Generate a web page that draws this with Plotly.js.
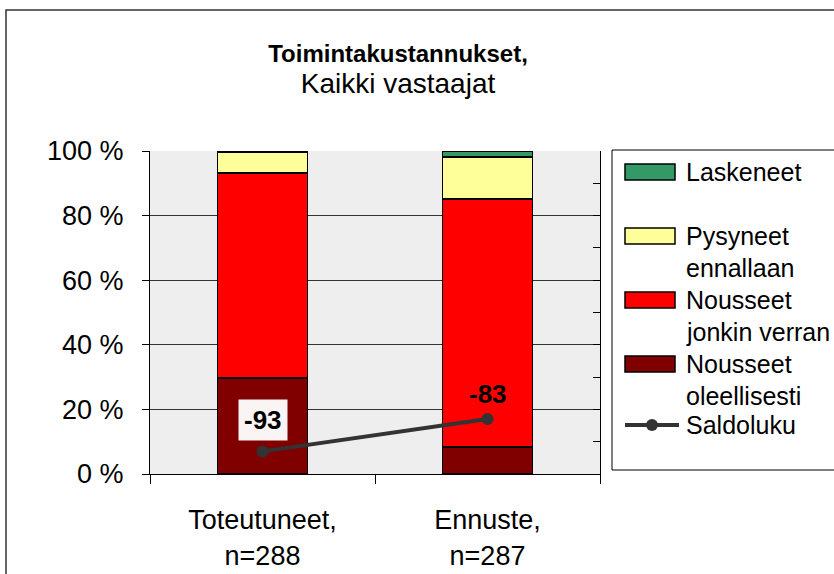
<!DOCTYPE html>
<html>
<head>
<meta charset="utf-8">
<script src="https://cdn.plot.ly/plotly-3.0.1.min.js"></script>
<style>
  html, body { margin: 0; padding: 0; background: #ffffff; }
  #chart { width: 834px; height: 574px; }
</style>
</head>
<body>
<div id="chart"></div>
<script>
// ---- data ----
const categories = ["Toteutuneet,<br>n=288", "Ennuste,<br>n=287"];
const nousseetOleellisesti = [29.7, 8.4];
const nousseetJonkinVerran = [63.5, 76.7];
const pysyneetEnnallaan = [6.3, 13.0];
const laskeneet = [0.5, 1.9];
const saldoluku = [-93, -83];
const seriesNames = ["Nousseet oleellisesti", "Nousseet jonkin verran", "Pysyneet ennallaan", "Laskeneet"];
const legendLines = [["Nousseet", "oleellisesti"], ["Nousseet", "jonkin verran"], ["Pysyneet", "ennallaan"], ["Laskeneet"]];
const saldoName = "Saldoluku";
const yTickVals = [0, 20, 40, 60, 80, 100];
const yTickText = ["0 %", "20 %", "40 %", "60 %", "80 %", "100 %"];

// ---- styles ----
const colors = ["#800000", "#FF0000", "#FFFF99", "#339966"];
const seriesValues = [nousseetOleellisesti, nousseetJonkinVerran, pysyneetEnnallaan, laskeneet];
const FONT = "Liberation Sans, Arial, sans-serif";
const LINE_COLOR = "#333333";

// plot area in pixels (for placing the hand-drawn legend box)
const PL = 150, PR = 600, PT = 151, PB = 474;
const PX = x => (x - PL) / (PR - PL);
const PY = y => (PB - y) / (PB - PT);

const traces = [];
seriesValues.forEach((vals, i) => {
  traces.push({
    type: "bar",
    name: seriesNames[i],
    x: categories,
    y: vals,
    marker: { color: colors[i], line: { color: "#000000", width: 1.5 } },
    hoverinfo: "skip",
    showlegend: false
  });
});
traces.push({
  type: "scatter",
  mode: "lines+markers",
  name: saldoName,
  x: categories,
  y: saldoluku,
  yaxis: "y2",
  line: { color: LINE_COLOR, width: 4 },
  marker: { color: LINE_COLOR, size: 12 },
  hoverinfo: "skip",
  showlegend: false
});

const annotations = [
  {
    x: categories[0], y: saldoluku[0], xref: "x", yref: "y2",
    text: "<b>" + saldoluku[0] + "</b>", showarrow: false, yshift: 31,
    font: { family: FONT, size: 26, color: "#000000" },
    bgcolor: "#fbf4f4", borderpad: 5
  },
  {
    x: categories[1], y: saldoluku[1], xref: "x", yref: "y2",
    text: "<b>" + saldoluku[1] + "</b>", showarrow: false, yshift: 25,
    font: { family: FONT, size: 26, color: "#000000" }
  }
];

const shapes = [
  // outer chart border
  {
    type: "rect", xref: "paper", yref: "paper",
    x0: PX(6), x1: 2, y0: -0.5, y1: PY(10),
    line: { color: LINE_COLOR, width: 1.5 }, fillcolor: "rgba(0,0,0,0)", layer: "above"
  },
  // legend box
  {
    type: "rect", xref: "paper", yref: "paper",
    x0: PX(612), x1: 2, y0: PY(470), y1: PY(150),
    line: { color: "#000000", width: 1 }, fillcolor: "#ffffff", layer: "above"
  }
];

// legend entries (top to bottom: reversed stacking order, then the line)
const LEG_ROW = 32;
const LEG_FONT = 25;
const legendStart = [172, 236, 300, 364];
const legendOrder = [3, 2, 1, 0];
legendOrder.forEach((si, k) => {
  const yc = legendStart[k];
  shapes.push({
    type: "rect", xref: "paper", yref: "paper",
    x0: PX(625), x1: PX(675), y0: PY(yc + 8), y1: PY(yc - 8),
    line: { color: "#000000", width: 1.5 }, fillcolor: colors[si], layer: "above"
  });
  legendLines[si].forEach((t, li) => {
    annotations.push({
      xref: "paper", yref: "paper", x: PX(684), y: PY(yc + li * LEG_ROW),
      xanchor: "left", yanchor: "middle", text: t, showarrow: false,
      font: { family: FONT, size: LEG_FONT, color: "#000000" }
    });
  });
});
const saldoY = 425;
shapes.push({
  type: "line", xref: "paper", yref: "paper",
  x0: PX(625), x1: PX(679), y0: PY(saldoY), y1: PY(saldoY),
  line: { color: LINE_COLOR, width: 4 }, layer: "above"
});
shapes.push({
  type: "circle", xref: "paper", yref: "paper",
  x0: PX(646), x1: PX(658), y0: PY(saldoY + 6), y1: PY(saldoY - 6),
  line: { color: LINE_COLOR, width: 0 }, fillcolor: LINE_COLOR, layer: "above"
});
annotations.push({
  xref: "paper", yref: "paper", x: PX(684), y: PY(saldoY),
  xanchor: "left", yanchor: "middle", text: saldoName, showarrow: false,
  font: { family: FONT, size: LEG_FONT, color: "#000000" }
});

const layout = {
  width: 834,
  height: 574,
  margin: { l: PL, r: 834 - PR, t: PT, b: 574 - PB },
  paper_bgcolor: "#ffffff",
  plot_bgcolor: "#eeeeee",
  font: { family: FONT, size: 27, color: "#000000" },
  barmode: "stack",
  bargap: 0.6,
  showlegend: false,
  title: {
    text: "<b>Toimintakustannukset,</b><br><span style=\"font-size:28px\">Kaikki vastaajat</span>",
    font: { family: FONT, size: 24, color: "#000000" },
    x: 398 / 834, xanchor: "center", xref: "container",
    y: 1 - 62 / 574, yanchor: "top", yref: "container"
  },
  xaxis: {
    type: "category",
    range: [-0.5, 1.5],
    tickson: "boundaries",
    ticks: "outside",
    ticklen: 9,
    tickcolor: "#000000",
    showline: true,
    linecolor: "#000000",
    linewidth: 1,
    showgrid: false,
    ticklabelstandoff: 22,
    tickfont: { family: FONT, size: 27 },
    fixedrange: true
  },
  yaxis: {
    range: [0, 100],
    tickvals: yTickVals,
    ticktext: yTickText,
    ticks: "outside",
    ticklen: 7,
    tickcolor: "#000000",
    showline: true,
    linecolor: "#000000",
    showgrid: true,
    gridcolor: "#333333",
    gridwidth: 1,
    zeroline: false,
    ticklabelstandoff: 13,
    tickfont: { family: FONT, size: 27 },
    fixedrange: true
  },
  yaxis2: {
    overlaying: "y",
    side: "right",
    range: [-100, 0],
    dtick: 10,
    ticks: "inside",
    ticklen: 7,
    tickcolor: "#000000",
    showticklabels: false,
    showline: true,
    linecolor: "#000000",
    showgrid: false,
    zeroline: false,
    fixedrange: true
  },
  annotations: annotations,
  shapes: shapes
};

Plotly.newPlot("chart", traces, layout, { displayModeBar: false, staticPlot: true });
</script>
</body>
</html>
